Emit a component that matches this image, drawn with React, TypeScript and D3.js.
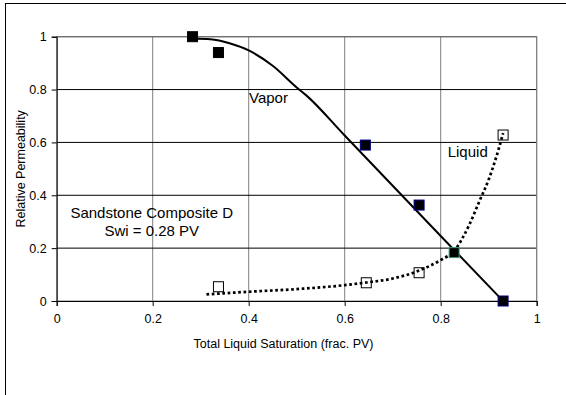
import { useEffect, useRef } from 'react';
import * as d3 from 'd3';

// measured points
const vaporX = [0.283, 0.337, 0.643, 0.755, 0.828, 0.93];
const vaporY = [1.0, 0.94, 0.59, 0.363, 0.183, 0.0];
const vaporEdge = ['#000000', '#000000', '#000080', '#000080', '#3c9a7a', '#000080'];

const liquidX = [0.337, 0.645, 0.755, 0.93];
const liquidY = [0.054, 0.069, 0.107, 0.628];

// trend curves
const vaporFitX = [0.283, 0.32, 0.36, 0.4, 0.45, 0.5, 0.52, 0.6, 0.7, 0.8, 0.93];
const vaporFitY = [0.993, 0.99, 0.975, 0.948, 0.89, 0.808, 0.778, 0.626, 0.436, 0.246, 0.0];

const liquidFitX = [0.312, 0.4, 0.5, 0.6, 0.645, 0.7, 0.755, 0.8, 0.828, 0.86, 0.88, 0.9, 0.915, 0.93];
const liquidFitY = [0.025, 0.035, 0.045, 0.06, 0.07, 0.085, 0.115, 0.155, 0.19, 0.29, 0.375, 0.46, 0.54, 0.635];

const xTicks = [0, 0.2, 0.4, 0.6, 0.8, 1];
const yTicks = [0, 0.2, 0.4, 0.6, 0.8, 1];

const FONT = "'Liberation Sans', Arial, sans-serif";

const App = () => {
    const svgRef = useRef<SVGSVGElement>(null);

    useEffect(() => {
        const svg = d3.select(svgRef.current);
        svg.selectAll('*').remove();

        const width = 566;
        const height = 395;

        const x = d3.scaleLinear().domain([0, 1]).range([56.7, 536.7]);
        const y = d3.scaleLinear().domain([0, 1]).range([301, 36.7]);

        svg.attr('width', width).attr('height', height);

        svg.append('rect')
            .attr('width', width)
            .attr('height', height)
            .attr('fill', '#fff');

        // chart area frame (runs off the right and bottom)
        svg.append('rect')
            .attr('x', 5.5)
            .attr('y', 3.5)
            .attr('width', 620)
            .attr('height', 420)
            .attr('fill', 'none')
            .attr('stroke', '#000')
            .attr('stroke-width', 1);

        // gridlines
        svg.append('g')
            .selectAll('line')
            .data(xTicks.slice(1))
            .enter()
            .append('line')
            .attr('x1', d => x(d))
            .attr('x2', d => x(d))
            .attr('y1', y(0))
            .attr('y2', y(1))
            .attr('stroke', '#808080')
            .attr('stroke-width', 1);

        svg.append('g')
            .selectAll('line')
            .data(yTicks.slice(1))
            .enter()
            .append('line')
            .attr('x1', x(0))
            .attr('x2', x(1))
            .attr('y1', d => y(d))
            .attr('y2', d => y(d))
            .attr('stroke', '#000')
            .attr('stroke-width', 1);

        // plot border
        svg.append('rect')
            .attr('x', x(0))
            .attr('y', y(1))
            .attr('width', x(1) - x(0))
            .attr('height', y(0) - y(1))
            .attr('fill', 'none')
            .attr('stroke', '#808080');

        // axes
        const xAxis = svg.append('g')
            .attr('transform', `translate(0,${y(0)})`)
            .call(d3.axisBottom(x).tickValues(xTicks).tickFormat(d3.format('~g')).tickSize(5).tickPadding(8));

        const yAxis = svg.append('g')
            .attr('transform', `translate(${x(0)},0)`)
            .call(d3.axisLeft(y).tickValues(yTicks).tickFormat(d3.format('~g')).tickSize(5).tickPadding(5));

        [xAxis, yAxis].forEach(g => {
            g.select('.domain').attr('stroke', '#000').attr('stroke-width', 1);
            g.selectAll('.tick line').attr('stroke', '#000');
            g.selectAll('text')
                .style('font-family', FONT)
                .style('font-size', '12.5px')
                .attr('fill', '#000');
        });

        // axis titles
        svg.append('text')
            .attr('x', 283.5)
            .attr('y', 348.3)
            .attr('text-anchor', 'middle')
            .style('font-family', FONT)
            .style('font-size', '12.5px')
            .text('Total Liquid Saturation (frac. PV)');

        svg.append('text')
            .attr('transform', `translate(24.5,${(y(0) + y(1)) / 2}) rotate(-90)`)
            .attr('text-anchor', 'middle')
            .style('font-family', FONT)
            .style('font-size', '12.5px')
            .text('Relative Permeability');

        // fitted curves
        const line = d3.line<number>()
            .x(d => x(d[0]))
            .y(d => y(d[1]))
            .curve(d3.curveMonotoneX);

        svg.append('path')
            .datum(vaporFitX.map((v, i) => [v, vaporFitY[i]]))
            .attr('d', line as any)
            .attr('fill', 'none')
            .attr('stroke', '#000')
            .attr('stroke-width', 2);

        svg.append('path')
            .datum(liquidFitX.map((v, i) => [v, liquidFitY[i]]))
            .attr('d', line as any)
            .attr('fill', 'none')
            .attr('stroke', '#000')
            .attr('stroke-width', 2.7)
            .attr('stroke-dasharray', '2.7 2.6');

        // markers
        const s = 10;

        svg.append('g')
            .selectAll('rect')
            .data(liquidX.map((v, i) => [v, liquidY[i]]))
            .enter()
            .append('rect')
            .attr('x', d => x(d[0]) - s / 2)
            .attr('y', d => y(d[1]) - s / 2)
            .attr('width', s)
            .attr('height', s)
            .attr('fill', 'none')
            .attr('stroke', '#000')
            .attr('stroke-width', 1);

        svg.append('g')
            .selectAll('rect')
            .data(vaporX.map((v, i) => [v, vaporY[i], i]))
            .enter()
            .append('rect')
            .attr('x', d => x(d[0]) - s / 2)
            .attr('y', d => y(d[1]) - s / 2)
            .attr('width', s)
            .attr('height', s)
            .attr('fill', '#000')
            .attr('stroke', d => vaporEdge[d[2]])
            .attr('stroke-width', 1);

        // annotations
        const note = (tx, ty, str, anchor = 'start') =>
            svg.append('text')
                .attr('x', tx)
                .attr('y', ty)
                .attr('text-anchor', anchor)
                .style('font-family', FONT)
                .style('font-size', '15px')
                .text(str);

        note(249, 103.3, 'Vapor');
        note(447.7, 156.7, 'Liquid');
        note(151.7, 218.3, 'Sandstone Composite D', 'middle');
        note(151.7, 236, 'Swi = 0.28 PV', 'middle');
    }, []);

    return (
        <div style={{ position: 'absolute', left: 0, top: 0 }}>
            <svg ref={svgRef}></svg>
        </div>
    );
};

export default App;
